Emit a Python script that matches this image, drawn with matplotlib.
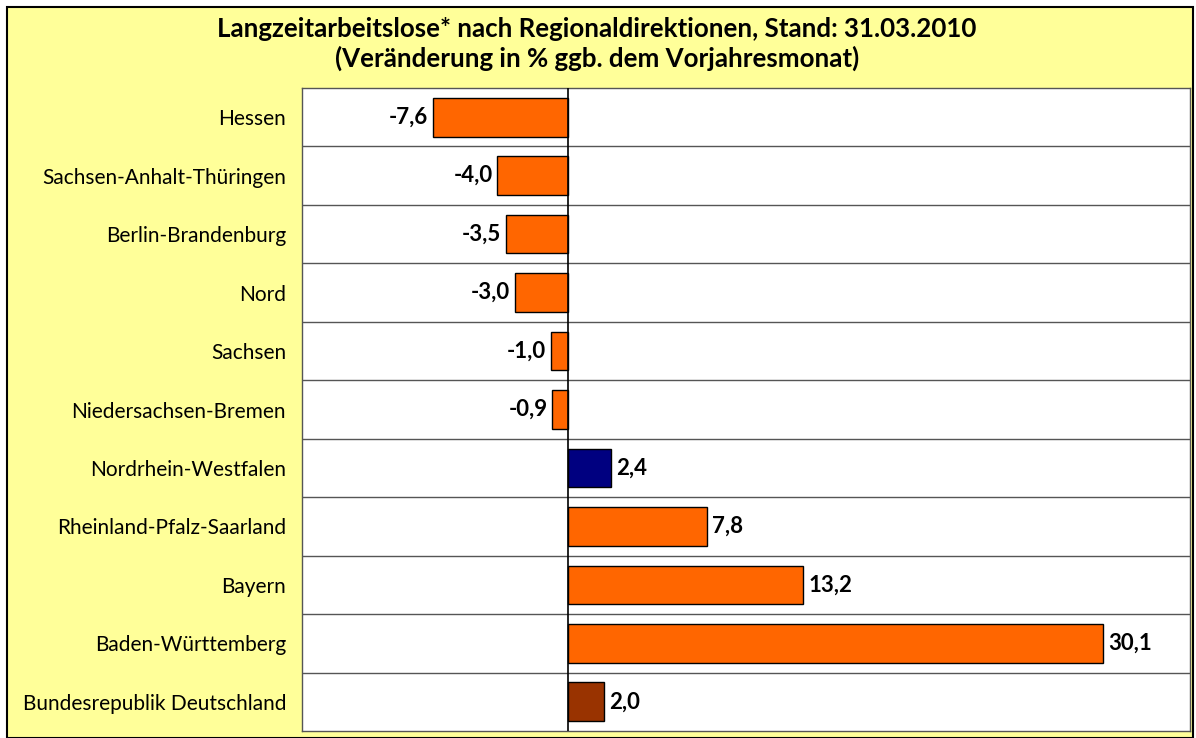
import matplotlib
matplotlib.use("Agg")
import matplotlib.pyplot as plt
from matplotlib.patches import Rectangle

categories = ["Hessen", "Sachsen-Anhalt-Thüringen", "Berlin-Brandenburg", "Nord",
              "Sachsen", "Niedersachsen-Bremen", "Nordrhein-Westfalen",
              "Rheinland-Pfalz-Saarland", "Bayern", "Baden-Württemberg",
              "Bundesrepublik Deutschland"]
values = [-7.6, -4.0, -3.5, -3.0, -1.0, -0.9, 2.4, 7.8, 13.2, 30.1, 2.0]
colors = ["#FF6600"] * 6 + ["#000080"] + ["#FF6600"] * 3 + ["#993300"]
title = "Langzeitarbeitslose* nach Regionaldirektionen, Stand: 31.03.2010\n(Veränderung in % ggb. dem Vorjahresmonat)"

plt.rcParams['font.family'] = ['Lato', 'DejaVu Sans']

W, H = 1196, 738
fig = plt.figure(figsize=(W / 100, H / 100), dpi=100)
fig.patch.set_facecolor("white")
fig.patches.append(Rectangle((7 / W, 0), (1193 - 7) / W, (H - 7) / H,
                             transform=fig.transFigure, facecolor="#FFFF99",
                             edgecolor="black", linewidth=1.5, zorder=-10))

left, right, top, bottom = 302, 1190, 88, 731
ax = fig.add_axes([left / W, 1 - bottom / H, (right - left) / W, (bottom - top) / H])
ax.set_zorder(1)
ax.set_facecolor("white")

n = len(categories)
y = list(range(n))
ax.barh(y, values, height=0.66, color=colors, edgecolor="black", linewidth=1, zorder=3)
ax.set_xlim(-15, 35)
ax.set_ylim(n - 0.5, -0.5)
ax.axvline(0, color="black", linewidth=1.2, zorder=4)
for b in range(1, n):
    ax.axhline(b - 0.5, color="#555555", linewidth=1, zorder=1)

for i, v in enumerate(values):
    s = f"{v:.1f}".replace(".", ",")
    if v < 0:
        ax.text(v - 0.28, i, s, ha="right", va="center", fontsize=16,
                fontweight="bold", zorder=5)
    else:
        ax.text(v + 0.3, i, s, ha="left", va="center", fontsize=16,
                fontweight="bold", zorder=5)

ax.set_yticks(y)
ax.set_yticklabels(categories, fontsize=15)
ax.tick_params(axis="y", length=0, pad=11.5)
ax.set_xticks([])
for sp in ax.spines.values():
    sp.set_color("#555555")
    sp.set_linewidth(1)

fig.text(597 / W, 1 - 44 / H, title, ha="center", va="center", fontsize=18.6,
         fontweight="bold", linespacing=1.2)

fig.savefig("out.png", dpi=100)
